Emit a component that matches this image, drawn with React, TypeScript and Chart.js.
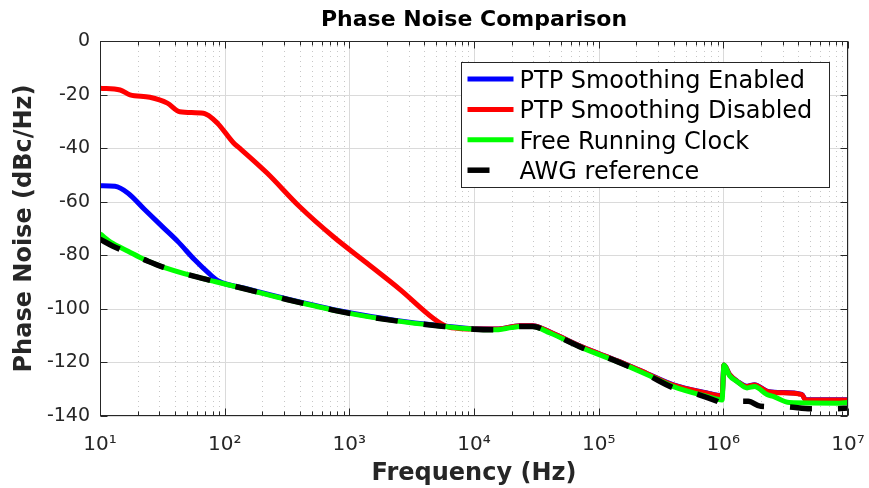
import React, { useEffect, useRef } from "react";
import { Chart, registerables } from "chart.js";

Chart.register(...registerables);

// ---------- data (frequency in Hz, phase noise in dBc/Hz) ----------
const blueFreq = [10, 13.2, 16.8, 22.9, 31.6, 42.2, 57.5, 74.1, 89.1, 144.5, 316, 912, 2291, 5495, 10000, 15136, 23442, 29512, 40738, 74131, 141254, 245471, 398107, 741310, 977237, 1011579, 1122018, 1288250, 1548817, 1778279, 2238721, 2818383, 4265795, 4570882, 1e7];
const blueVal = [-54, -54.2, -56.8, -63, -69.3, -74.9, -81.7, -86.6, -89.6, -92.3, -96.3, -101.1, -104.2, -106.3, -107.4, -107.5, -106.3, -106.3, -108.7, -114.3, -119.4, -124.2, -128.4, -131.4, -132.4, -121, -124.5, -127, -128.9, -128.3, -130.7, -131.2, -131.9, -133.9, -133.9];

const redFreq = [10, 14.5, 17.4, 25.1, 34.7, 43.7, 67.6, 87.1, 117.5, 131.8, 218.8, 398, 741, 1380, 2570, 4677, 6026, 7943, 10000, 15136, 23442, 29512, 40738, 74131, 141254, 245471, 398107, 741310, 977237, 1011579, 1122018, 1288250, 1548817, 1778279, 2238721, 2818383, 4265795, 4570882, 1e7];
const redVal = [-17.6, -18.3, -20.1, -21, -23.2, -26.4, -27, -30.6, -38, -40, -49.3, -61.8, -73, -82.9, -92.9, -103.4, -106.6, -107.4, -107.5, -107.5, -106.3, -106.3, -108.7, -114.3, -119.4, -124.2, -128.5, -131.5, -132.5, -121, -124.5, -127, -129, -128.4, -130.8, -131.3, -132, -134, -134];

const greenFreq = [10, 12.6, 16.8, 22.9, 31.6, 57.5, 83.2, 144.5, 316, 912, 2291, 5495, 10000, 15136, 19953, 23442, 29512, 40738, 74131, 141254, 245471, 398107, 741310, 977237, 1011579, 1122018, 1288250, 1548817, 1778279, 2238721, 2511886, 3388442, 8511380, 1e7];
const greenVal = [-72, -75.5, -78.5, -81.7, -84.3, -87.9, -89.8, -92.5, -96.5, -101.3, -104.4, -106.5, -107.6, -107.8, -107, -106.6, -106.6, -109, -114.6, -119.7, -124.6, -129, -132.7, -134, -121, -125, -127.1, -129.5, -129, -132, -132.7, -135, -135.2, -135];

const blackFreq = [10, 12.6, 16.8, 22.9, 31.6, 57.5, 83.2, 144.5, 316, 912, 2291, 5495, 10000, 15136, 19953, 23442, 29512, 40738, 74131, 141254, 245471, 398107, 630957, 891251, 1e6, 1258925, 1584893, 1995262, 3162278, 5011872, 7943282, 1e7];
const blackVal = [-74, -76.5, -79, -81.7, -84.3, -87.9, -89.8, -92.5, -96.5, -101.3, -104.4, -106.5, -107.6, -107.8, -107, -106.6, -106.6, -109, -114.6, -119.7, -124.6, -129.5, -132, -134.5, -135.5, -134.5, -134.5, -136.4, -136.6, -137.3, -137.3, -137];

const seriesLabels = ["PTP Smoothing Enabled", "PTP Smoothing Disabled", "Free Running Clock", "AWG reference"];

const xDecades = [1e1, 1e2, 1e3, 1e4, 1e5, 1e6, 1e7];
const xExponentLabels = ["10\u00B9", "10\u00B2", "10\u00B3", "10\u2074", "10\u2075", "10\u2076", "10\u2077"];
const minorMultiples = [2, 3, 4, 5, 6, 7, 8, 9];
const yTicks = [-140, -120, -100, -80, -60, -40, -20, 0];

const FONT = "'DejaVu Sans', 'Liberation Sans', sans-serif";

const zip = (xs: number[], ys: number[]) => xs.map((x, i) => ({ x, y: ys[i] }));

const gridPlugin = {
  id: "matlabGrid",
  beforeDatasetsDraw(chart: any) {
    const { ctx, chartArea: a, scales } = chart;
    const xs = scales.x;
    const ys = scales.y;
    ctx.save();
    ctx.lineWidth = 1;
    ctx.strokeStyle = "rgba(0,0,0,0.22)";
    ctx.setLineDash([1, 4]);
    for (let d = 0; d < xDecades.length - 1; d++) {
      for (const k of minorMultiples) {
        const px = Math.round(xs.getPixelForValue(k * xDecades[d])) + 0.5;
        ctx.beginPath();
        ctx.moveTo(px, a.top);
        ctx.lineTo(px, a.bottom);
        ctx.stroke();
      }
    }
    ctx.setLineDash([]);
    ctx.strokeStyle = "#dadada";
    for (const v of xDecades) {
      const px = Math.round(xs.getPixelForValue(v)) + 0.5;
      ctx.beginPath();
      ctx.moveTo(px, a.top);
      ctx.lineTo(px, a.bottom);
      ctx.stroke();
    }
    for (const v of yTicks) {
      const py = Math.round(ys.getPixelForValue(v)) + 0.5;
      ctx.beginPath();
      ctx.moveTo(a.left, py);
      ctx.lineTo(a.right, py);
      ctx.stroke();
    }
    ctx.restore();
  },
};

const boxPlugin = {
  id: "matlabBox",
  afterDatasetsDraw(chart: any) {
    const { ctx, chartArea: a, scales } = chart;
    const xs = scales.x;
    const ys = scales.y;
    ctx.save();
    ctx.strokeStyle = "#262626";
    ctx.lineWidth = 1;
    ctx.setLineDash([]);
    const L = Math.round(a.left) + 0.5;
    const R = Math.round(a.right) - 0.5;
    const T = Math.round(a.top) + 0.5;
    const B = Math.round(a.bottom) - 0.5;
    ctx.strokeRect(L, T, R - L, B - T);
    const tick = (x1: number, y1: number, x2: number, y2: number) => {
      ctx.beginPath();
      ctx.moveTo(x1, y1);
      ctx.lineTo(x2, y2);
      ctx.stroke();
    };
    for (const v of xDecades) {
      const px = Math.round(xs.getPixelForValue(v)) + 0.5;
      tick(px, B, px, B - 7);
      tick(px, T, px, T + 7);
    }
    for (let d = 0; d < xDecades.length - 1; d++) {
      for (const k of minorMultiples) {
        const px = Math.round(xs.getPixelForValue(k * xDecades[d])) + 0.5;
        tick(px, B, px, B - 4);
        tick(px, T, px, T + 4);
      }
    }
    for (const v of yTicks) {
      const py = Math.round(ys.getPixelForValue(v)) + 0.5;
      tick(L, py, L + 7, py);
      tick(R, py, R - 7, py);
    }
    ctx.restore();
  },
};

const legendPlugin = {
  id: "matlabLegend",
  afterDraw(chart: any) {
    const { ctx, chartArea: a } = chart;
    const w = 368;
    const h = 125;
    const left = Math.round(a.right - 19 - w) + 0.5;
    const top = Math.round(a.top + 21) + 0.5;
    ctx.save();
    ctx.fillStyle = "#ffffff";
    ctx.fillRect(left, top, w, h);
    ctx.strokeStyle = "#262626";
    ctx.lineWidth = 1;
    ctx.setLineDash([]);
    ctx.strokeRect(left, top, w, h);
    ctx.font = `24px ${FONT}`;
    ctx.textAlign = "left";
    ctx.textBaseline = "alphabetic";
    chart.data.datasets.forEach((ds: any, i: number) => {
      const y = top + 16.5 + i * 30.4;
      ctx.strokeStyle = ds.borderColor;
      ctx.lineWidth = ds.borderWidth;
      ctx.setLineDash(ds.borderDash || []);
      ctx.lineCap = "butt";
      ctx.beginPath();
      ctx.moveTo(left + 6, y);
      ctx.lineTo(left + 52, y);
      ctx.stroke();
      ctx.setLineDash([]);
      ctx.fillStyle = "#000000";
      ctx.fillText(ds.label, left + 58, y + 8.7);
    });
    ctx.restore();
  },
};

export default function App() {
  const canvasRef = useRef<HTMLCanvasElement | null>(null);

  useEffect(() => {
    if (!canvasRef.current) return;
    const chart = new Chart(canvasRef.current, {
      type: "line",
      data: {
        datasets: [
          { label: seriesLabels[0], data: zip(blueFreq, blueVal), borderColor: "#0000ff", borderWidth: 5, order: 4 },
          { label: seriesLabels[1], data: zip(redFreq, redVal), borderColor: "#ff0000", borderWidth: 5, order: 3 },
          { label: seriesLabels[2], data: zip(greenFreq, greenVal), borderColor: "#00ff00", borderWidth: 5, order: 2 },
          { label: seriesLabels[3], data: zip(blackFreq, blackVal), borderColor: "#000000", borderWidth: 5.5, borderDash: [22, 26], order: 1 },
        ].map((d) => ({
          ...d,
          pointRadius: 0,
          pointHoverRadius: 0,
          fill: false,
          cubicInterpolationMode: "monotone" as const,
          borderCapStyle: "butt" as const,
          borderJoinStyle: "round" as const,
        })),
      },
      options: {
        animation: false,
        responsive: false,
        maintainAspectRatio: false,
        events: [],
        layout: { padding: { left: 0, right: 21, top: 0, bottom: 0 } },
        plugins: {
          legend: { display: false },
          tooltip: { enabled: false },
          title: {
            display: true,
            text: "Phase Noise Comparison",
            fullSize: false,
            color: "#000000",
            font: { family: FONT, size: 22, weight: "bold" },
            padding: { top: 7, bottom: 7.6 },
          },
        },
        scales: {
          x: {
            type: "logarithmic",
            min: 10,
            max: 1e7,
            afterBuildTicks: (scale: any) => {
              scale.ticks = xDecades.map((v) => ({ value: v }));
            },
            afterFit: (scale: any) => {
              scale.height = 72;
              scale.paddingLeft = 0;
              scale.paddingRight = 0;
            },
            grid: { display: false, drawTicks: false },
            border: { display: false },
            ticks: {
              autoSkip: false,
              maxRotation: 0,
              padding: 17,
              color: "#262626",
              font: { family: FONT, size: 20 },
              callback: (v: any) => {
                const i = xDecades.indexOf(Number(v));
                return i >= 0 ? xExponentLabels[i] : "";
              },
            },
            title: {
              display: true,
              text: "Frequency (Hz)",
              color: "#262626",
              font: { family: FONT, size: 24, weight: "bold" },
              padding: { top: 0, bottom: 0 },
            },
          },
          y: {
            type: "linear",
            min: -140,
            max: 0,
            afterBuildTicks: (scale: any) => {
              scale.ticks = yTicks.map((v) => ({ value: v }));
            },
            afterFit: (scale: any) => {
              scale.width = 100;
              scale.paddingTop = 0;
              scale.paddingBottom = 0;
            },
            grid: { display: false, drawTicks: false },
            border: { display: false },
            ticks: {
              padding: 10,
              color: "#262626",
              font: { family: FONT, size: 19 },
              callback: (v: any) => String(v),
            },
            title: {
              display: true,
              text: "Phase Noise (dBc/Hz)",
              color: "#262626",
              font: { family: FONT, size: 24, weight: "bold" },
              padding: { top: 10, bottom: 0 },
            },
          },
        },
      },
      plugins: [gridPlugin, boxPlugin, legendPlugin],
    } as any);
    return () => chart.destroy();
  }, []);

  return (
    <div style={{ position: "absolute", left: 0, top: 0, width: 869, height: 488, background: "#ffffff" }}>
      <canvas ref={canvasRef} width={869} height={488} style={{ display: "block" }} />
    </div>
  );
}
